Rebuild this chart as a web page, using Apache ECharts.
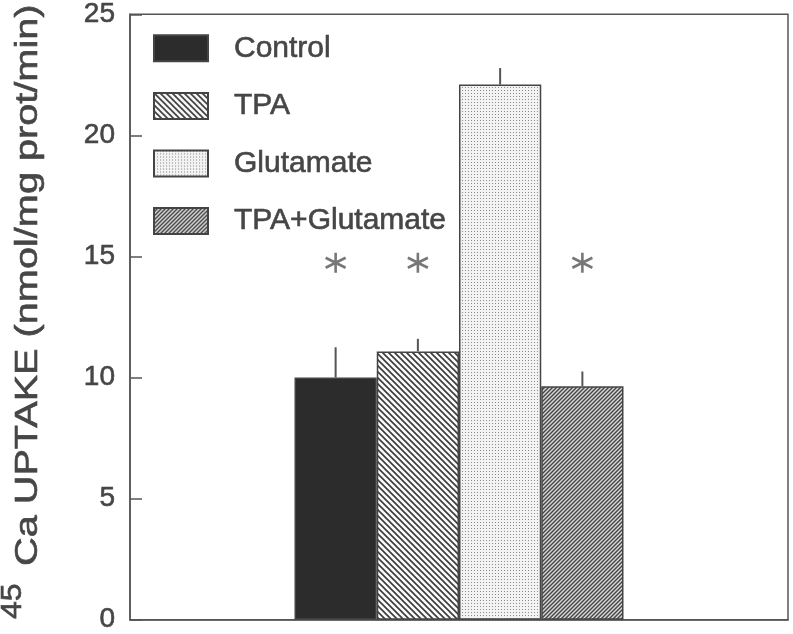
<!DOCTYPE html>
<html>
<head>
<meta charset="utf-8">
<script src="https://cdn.jsdelivr.net/npm/echarts@6/dist/echarts.min.js"></script>
<style>html,body{margin:0;padding:0;background:#fff;}#main{width:793px;height:634px;}</style>
</head>
<body>
<div id="main"></div>
<script>
// ---- data ----
const categories = ['pad-a', 'pad-b', 'Control', 'TPA', 'Glutamate', 'TPA+Glutamate', 'pad-c', 'pad-d'];
const groups = ['Control', 'TPA', 'Glutamate', 'TPA+Glutamate'];
const means = [10.0, 11.08, 22.1, 9.64];
const errTop = [11.25, 11.6, 22.78, 10.25];
const significant = [true, true, false, true];
const starLevel = 14.74;
const yMin = 0, yMax = 25, yStep = 5;
const yTitleSup = '45';
const yTitle = 'Ca UPTAKE (nmol/mg prot/min)';

// ---- patterns ----
function makeCanvas(w, h, draw) {
  const c = document.createElement('canvas');
  c.width = w; c.height = h;
  const ctx = c.getContext('2d');
  draw(ctx, w, h);
  return c;
}
function diag(ctx, s, dir) {
  ctx.beginPath();
  if (dir === 'back') { // "\"
    ctx.moveTo(-1, -1); ctx.lineTo(s + 1, s + 1);
    ctx.moveTo(-1, s - 1); ctx.lineTo(1, s + 1);
    ctx.moveTo(s - 1, -1); ctx.lineTo(s + 1, 1);
  } else { // "/"
    ctx.moveTo(-1, s + 1); ctx.lineTo(s + 1, -1);
    ctx.moveTo(-1, 1); ctx.lineTo(1, -1);
    ctx.moveTo(s - 1, s + 1); ctx.lineTo(s + 1, s - 1);
  }
  ctx.stroke();
}
const fills = [
  '#2c2c2c',
  { image: makeCanvas(6, 6, (ctx, w) => { ctx.fillStyle = '#fafafa'; ctx.fillRect(0, 0, w, w); ctx.strokeStyle = '#3a3a3a'; ctx.lineWidth = 1.6; diag(ctx, w, 'back'); }), repeat: 'repeat' },
  { image: makeCanvas(3, 3, (ctx, w) => { ctx.fillStyle = '#f3f3f3'; ctx.fillRect(0, 0, w, w); ctx.fillStyle = '#8a8a8a'; ctx.fillRect(0, 0, 1, 1); }), repeat: 'repeat' },
  { image: makeCanvas(4, 4, (ctx, w) => { ctx.fillStyle = '#d8d8d8'; ctx.fillRect(0, 0, w, w); ctx.strokeStyle = '#444'; ctx.lineWidth = 1.4; diag(ctx, w, 'fwd'); }), repeat: 'repeat' }
];

const FONT = '"Liberation Sans", Arial, Helvetica, sans-serif';
const INK = '#464646';

const barSeries = groups.map((g, i) => {
  const idx = categories.indexOf(g);
  return {
    name: g,
    type: 'bar',
    barGap: '-100%',
    barCategoryGap: '0%',
    data: categories.map((c, j) => (j === idx ? means[i] : '-')),
    itemStyle: { color: fills[i], borderColor: '#444', borderWidth: 1.5 },
    emphasis: { disabled: true },
    silent: true,
    z: 2
  };
});

const errData = groups.map((g, i) => [categories.indexOf(g), means[i], errTop[i]]);
const starData = groups.map((g, i) => significant[i] ? [categories.indexOf(g), starLevel] : null).filter(Boolean);

const chart = echarts.init(document.getElementById('main'), null, { renderer: 'canvas' });
chart.setOption({
  animation: false,
  backgroundColor: '#fff',
  grid: { left: 130, right: 5, top: 14, bottom: 13, show: true, borderColor: '#555', borderWidth: 1.5, containLabel: false },
  legend: {
    data: groups.map(g => ({ name: g, icon: 'rect' })),
    orient: 'vertical',
    left: 153, top: 33,
    padding: 0,
    itemWidth: 54, itemHeight: 26, itemGap: 27,
    selectedMode: false,
    textStyle: { fontFamily: FONT, fontSize: 30, color: INK, textBorderColor: INK, textBorderWidth: 0.6, padding: [10, 0, 0, 21] }
  },
  xAxis: {
    type: 'category',
    data: categories,
    axisLine: { show: true, lineStyle: { color: '#555', width: 1.5 } },
    axisTick: { show: false },
    axisLabel: { show: false },
    splitLine: { show: false }
  },
  yAxis: {
    type: 'value',
    min: yMin, max: yMax, interval: yStep,
    axisLine: { show: true, lineStyle: { color: '#555', width: 1.5 } },
    axisTick: { show: true, inside: true, length: 12, lineStyle: { color: '#555', width: 1.5 } },
    axisLabel: { fontFamily: FONT, fontSize: 28, color: INK, textBorderColor: INK, textBorderWidth: 0.6, margin: 15, padding: [5, 0, 0, 0] },
    splitLine: { show: false }
  },
  graphic: [{
    type: 'text',
    x: 27, y: 619,
    rotation: Math.PI / 2,
    scaleX: 1.1,
    style: { text: yTitleSup, font: '29px ' + FONT, fill: INK, stroke: INK, lineWidth: 0.6, textAlign: 'left', textVerticalAlign: 'bottom' }
  }, {
    type: 'text',
    x: 44, y: 566,
    rotation: Math.PI / 2,
    scaleX: 1.24,
    style: { text: yTitle, font: '32px ' + FONT, fill: INK, stroke: INK, lineWidth: 0.6, textAlign: 'left', textVerticalAlign: 'bottom' }
  }],
  series: barSeries.concat([
    {
      name: 'err',
      type: 'custom',
      silent: true,
      z: 3,
      data: errData,
      renderItem: function (params, api) {
        const p0 = api.coord([api.value(0), api.value(1)]);
        const p1 = api.coord([api.value(0), api.value(2)]);
        return { type: 'line', shape: { x1: p0[0], y1: p0[1], x2: p1[0], y2: p1[1] }, style: { stroke: '#555', lineWidth: 2 } };
      }
    },
    {
      name: 'stars',
      type: 'scatter',
      silent: true,
      data: starData,
      symbol: 'path://M10 0 L10 20 M1.34 5 L18.66 15 M1.34 15 L18.66 5',
      symbolSize: 20,
      itemStyle: { color: 'none', borderColor: '#555', borderWidth: 2.6 },
      z: 4
    }
  ])
});
</script>
</body>
</html>
